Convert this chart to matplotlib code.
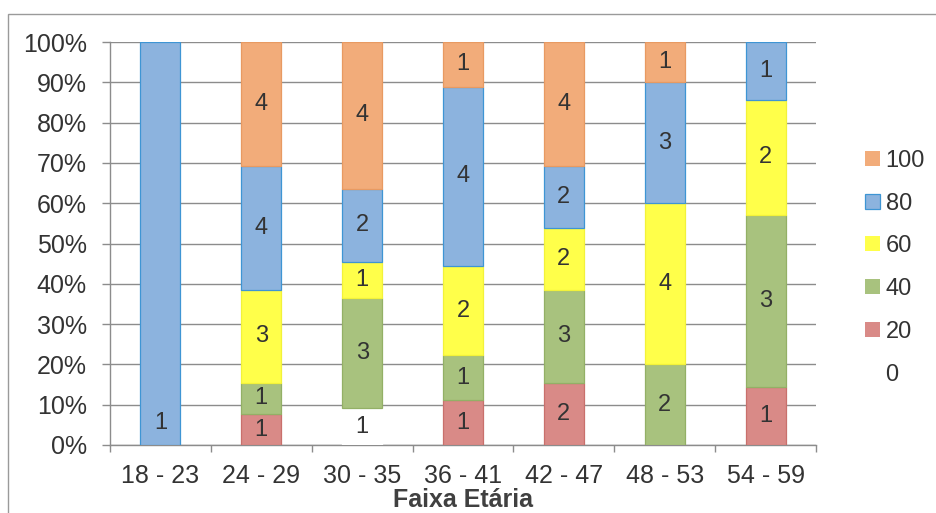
import matplotlib
matplotlib.use("Agg")
import matplotlib.pyplot as plt
from matplotlib.patches import Rectangle
import numpy as np

plt.rcParams['font.family'] = ['Liberation Sans', 'DejaVu Sans']

categories = ["18 - 23", "24 - 29", "30 - 35", "36 - 41", "42 - 47", "48 - 53", "54 - 59"]
series_names = ["0", "20", "40", "60", "80", "100"]

s0 = [0, 0, 1, 0, 0, 0, 0]
s20 = [0, 1, 0, 1, 2, 0, 1]
s40 = [0, 1, 3, 1, 3, 2, 3]
s60 = [0, 3, 1, 2, 2, 4, 2]
s80 = [1, 4, 2, 4, 2, 3, 1]
s100 = [0, 4, 4, 1, 4, 1, 0]

face_colors = ["#FFFFFF", "#D98A87", "#A8C27E", "#FFFF4A", "#8CB3DE", "#F2AC7A"]
edge_colors = ["#FFFFFF", "#C9706C", "#93B066", "#F2F23A", "#3E95D4", "#E89A62"]

data = np.array([s0, s20, s40, s60, s80, s100], dtype=float)
totals = data.sum(axis=0)
frac = data / totals

fig = plt.figure(figsize=(9.37, 5.13), dpi=100)
ax = fig.add_axes([110 / 937, 1 - 445 / 513, (816 - 110) / 937, (445 - 42) / 513])

text_color = "#333333"
grid_color = "#8C8C8C"

x = np.arange(len(categories))
bar_w = 0.396
bottom = np.zeros(len(categories))
for i, name in enumerate(series_names):
    widths = [0.9 if v > 0 else 0.0 for v in data[i]]
    ax.bar(x, frac[i], bar_w, bottom=bottom, color=face_colors[i],
           edgecolor=edge_colors[i], linewidth=widths, zorder=3, label=name)
    for j in range(len(categories)):
        v = data[i, j]
        if v > 0:
            y = bottom[j] + frac[i, j] / 2
            # a single full-height segment carries its label near the base
            if frac[i, j] >= 0.999:
                y = 0.055
            ax.text(x[j], y, f"{int(v)}", ha="center", va="center",
                    fontsize=17, color=text_color, zorder=4)
    bottom += frac[i]

ax.set_xlim(-0.5, len(categories) - 0.5)
ax.set_ylim(0, 1)

yt = np.linspace(0, 1, 11)
ax.set_yticks(yt)
ax.set_yticklabels([f"{int(round(v * 100))}%" for v in yt], fontsize=18, color=text_color)
ax.yaxis.grid(True, color=grid_color, linewidth=1.0, zorder=0)
ax.tick_params(axis="y", length=5.8, width=1, color=grid_color, pad=11)

ax.set_xticks(x)
ax.set_xticklabels(categories, fontsize=18, color=text_color)
ax.set_xticks(np.arange(-0.5, len(categories)), minor=True)
ax.tick_params(axis="x", which="major", length=0, pad=14)
ax.tick_params(axis="x", which="minor", length=5, width=1, color=grid_color)

for side in ["top", "right"]:
    ax.spines[side].set_visible(False)
for side in ["left", "bottom"]:
    ax.spines[side].set_color(grid_color)
    ax.spines[side].set_linewidth(1.0)

ax.set_xlabel("Faixa Etária", fontsize=18, fontweight="bold", color="#404040", labelpad=0)

handles, labels = ax.get_legend_handles_labels()
leg = ax.legend(handles[::-1], labels[::-1], loc="center left",
                bbox_to_anchor=(1.04, 0.44), frameon=False, fontsize=17,
                labelcolor=text_color, handlelength=0.6, handleheight=0.6,
                handletextpad=0.25, labelspacing=0.88)

# outer chart frame
fig.add_artist(Rectangle((8 / 937, -0.1), 1.2, 1 - 14 / 513 + 0.1,
                         transform=fig.transFigure, fill=False,
                         edgecolor="#9A9A9A", linewidth=1.0))

fig.savefig("out.png", dpi=100)
